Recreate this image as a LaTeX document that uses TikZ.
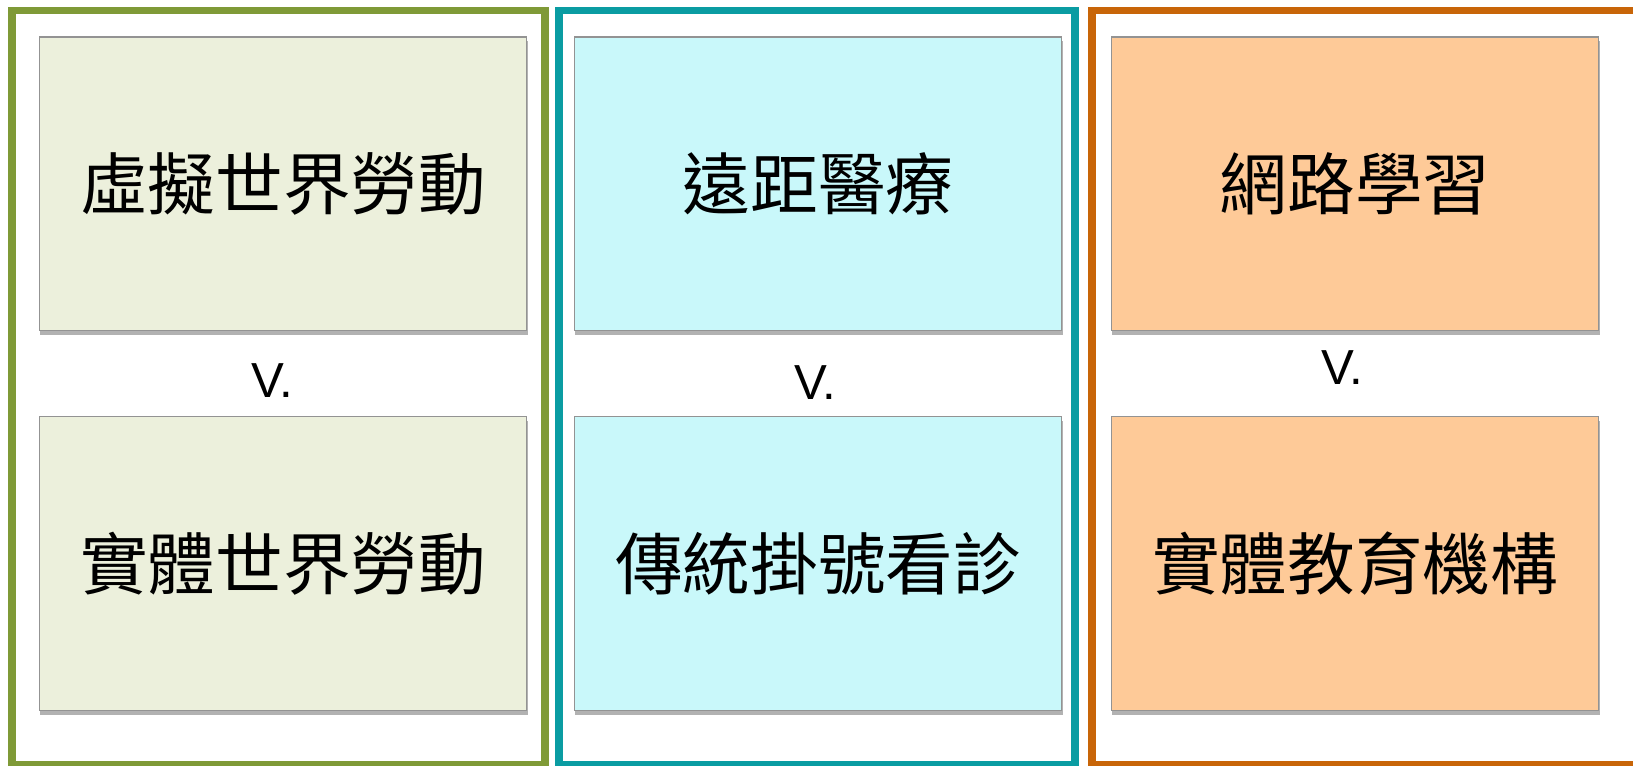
\documentclass[tikz,border=0pt]{standalone}
\usepackage{fontspec}
\setmainfont{Liberation Sans}
\newfontfamily\cjk{Noto Sans CJK TC}
\usepackage{tikz}
\usetikzlibrary{shadows}

\definecolor{framegreen}{HTML}{7F9A37}
\definecolor{frameteal}{HTML}{0A9CA2}
\definecolor{frameorange}{HTML}{C86508}
\definecolor{cardgreen}{HTML}{ECF0DC}
\definecolor{cardteal}{HTML}{C9F8FA}
\definecolor{cardorange}{HTML}{FECA98}

\begin{document}
\begin{tikzpicture}[x = 0.02cm, y = -0.02cm]
	\tikzset{card/.style = {rectangle, draw = gray!85, line width = 0.6pt, minimum width = 9.76cm, minimum height = 5.88cm, inner sep = 0pt, font = \cjk\fontsize{38.5}{44}\selectfont, drop shadow = {shadow xshift = 0.8pt, shadow yshift = -2.5pt, opacity = 0.5, fill = black!60}}}
	\tikzset{versus/.style = {anchor = base, inner sep = 0pt, font = \fontsize{28}{32}\selectfont}}
	\tikzset{frame/.style = {line width = 4pt}}

\clip (0,0) rectangle (1633,766);

%% Frames
\draw[frame, draw = framegreen] (12,10.5) rectangle (545,765);
\draw[frame, draw = frameteal] (559,10.5) rectangle (1075,765);
\draw[frame, draw = frameorange] (1092,10.5) rectangle (1650,765);

%% Labour
\draw (283,184) node[card, name = virtualwork, fill = cardgreen]{虛擬世界勞動};
\draw (272,398) node[versus, name = vslabour]{V.};
\draw (283,563.5) node[card, name = realwork, fill = cardgreen]{實體世界勞動};

%% Medicine
\draw (818,184) node[card, name = telemed, fill = cardteal]{遠距醫療};
\draw (815,400) node[versus, name = vsmed]{V.};
\draw (818,563.5) node[card, name = clinic, fill = cardteal]{傳統掛號看診};

%% Education
\draw (1355,184) node[card, name = elearning, fill = cardorange]{網路學習};
\draw (1342,385) node[versus, name = vsedu]{V.};
\draw (1355,563.5) node[card, name = school, fill = cardorange]{實體教育機構};
\end{tikzpicture}
\end{document}
